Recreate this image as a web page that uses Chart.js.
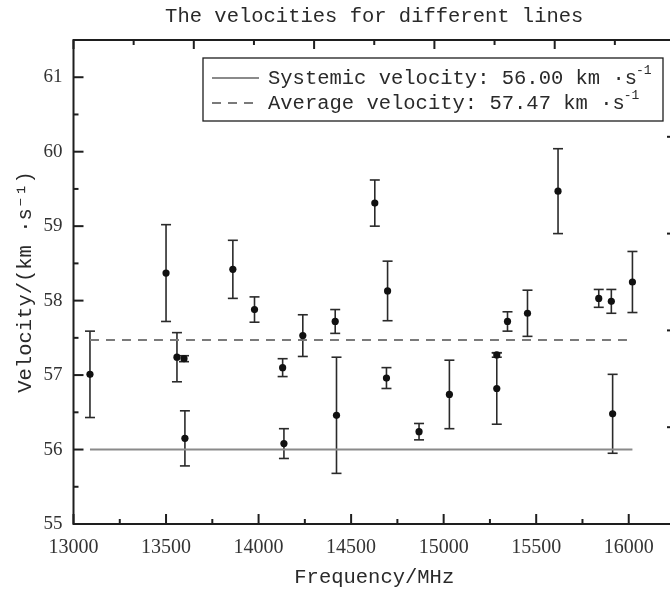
<!DOCTYPE html>
<html>
<head>
<meta charset="utf-8">
<title>The velocities for different lines</title>
<script src="https://cdn.jsdelivr.net/npm/chart.js@4.4.1/dist/chart.umd.min.js"></script>
<style>
  html, body { margin: 0; padding: 0; background: #fff; overflow: hidden; }
  canvas { display: block; }
</style>
</head>
<body>
<canvas id="velocityChart" width="690" height="594"></canvas>
<script>
'use strict';

// line frequencies (MHz) and measured velocities (km/s) with 1-sigma errors
const frequencies = [13089, 13500, 13559, 13597, 13602, 13861, 13978, 14130, 14137, 14239,
                     14414, 14421, 14628, 14697, 14691, 14867, 15031, 15287, 15287, 15345,
                     15453, 15618, 15838, 15906, 15913, 16020];
const velocities = [57.01, 58.37, 57.24, 57.22, 56.15, 58.42, 57.88, 57.10, 56.08, 57.53,
                    57.72, 56.46, 59.31, 58.13, 56.96, 56.24, 56.74, 56.82, 57.27, 57.72,
                    57.83, 59.47, 58.03, 57.99, 56.48, 58.25];
const velocityErrors = [0.58, 0.65, 0.33, 0.04, 0.37, 0.39, 0.17, 0.12, 0.20, 0.28,
                        0.16, 0.78, 0.31, 0.40, 0.14, 0.11, 0.46, 0.48, 0.03, 0.13,
                        0.31, 0.57, 0.12, 0.16, 0.53, 0.41];

const systemicVelocity = 56.00;
const averageVelocity = 57.47;

const xTickValues = [13000, 13500, 14000, 14500, 15000, 15500, 16000];
const yTickValues = [55, 56, 57, 58, 59, 60, 61];
// the frame's top/right axes carry their own (unlabelled) ticks
const topTickValues = [0, 0.5, 1, 1.5, 2, 2.5, 3, 3.5, 4, 4.5, 5];
const rightTickValues = [0, 1, 2, 3, 4, 5];

const INK = '#1e1e1e';
const LINE_GREY = '#8a8a8a';
const MONO = '"Liberation Mono", "DejaVu Sans Mono", monospace';
const SERIF = '"Liberation Serif", "DejaVu Serif", serif';

const fStart = Math.min(...frequencies);
const fEnd = Math.max(...frequencies);

function drawTick(ctx, x1, y1, x2, y2) {
    ctx.beginPath();
    ctx.moveTo(x1, y1);
    ctx.lineTo(x2, y2);
    ctx.stroke();
}

function drawSupText(ctx, text, sup, x, y) {
    ctx.font = '20.5px ' + MONO;
    ctx.textBaseline = 'middle';
    ctx.textAlign = 'left';
    ctx.fillText(text, x, y);
    const w = ctx.measureText(text).width;
    ctx.font = '13px ' + MONO;
    ctx.fillText(sup, x + w - 1, y - 8);
}

const decorPlugin = {
    id: 'decor',
    beforeDatasetsDraw(chart) {
        const {ctx, scales: {x, y}} = chart;
        ctx.save();
        ctx.strokeStyle = '#2a2a2a';
        ctx.lineWidth = 1.6;
        frequencies.forEach((f, i) => {
            const px = x.getPixelForValue(f);
            const top = y.getPixelForValue(velocities[i] + velocityErrors[i]);
            const bot = y.getPixelForValue(velocities[i] - velocityErrors[i]);
            drawTick(ctx, px, top, px, bot);
            drawTick(ctx, px - 5, top, px + 5, top);
            drawTick(ctx, px - 5, bot, px + 5, bot);
        });
        ctx.restore();
    },
    afterDraw(chart) {
        const {ctx, chartArea: a, scales: {x, y, x2, y2}} = chart;
        ctx.save();
        ctx.strokeStyle = INK;
        ctx.lineWidth = 2;
        ctx.strokeRect(a.left, a.top, a.right - a.left, a.bottom - a.top);

        // inward tick marks
        xTickValues.forEach((v, i) => {
            const px = x.getPixelForValue(v);
            drawTick(ctx, px, a.bottom, px, a.bottom - 10);
            if (i < xTickValues.length - 1) {
                const m = x.getPixelForValue((v + xTickValues[i + 1]) / 2);
                drawTick(ctx, m, a.bottom, m, a.bottom - 5);
            }
        });
        yTickValues.forEach(v => {
            const py = y.getPixelForValue(v);
            drawTick(ctx, a.left, py, a.left + 10, py);
            const m = y.getPixelForValue(v + 0.5);
            drawTick(ctx, a.left, m, a.left + 5, m);
        });
        topTickValues.forEach(v => {
            const px = x2.getPixelForValue(v);
            drawTick(ctx, px, a.top, px, a.top + (v % 1 === 0 ? 9 : 5));
        });
        rightTickValues.forEach(v => {
            const py = y2.getPixelForValue(v);
            drawTick(ctx, a.right, py, a.right - 8, py);
        });

        // title
        ctx.fillStyle = '#2a2a2a';
        ctx.font = '20.5px ' + MONO;
        ctx.textAlign = 'center';
        ctx.textBaseline = 'middle';
        ctx.fillText('The velocities for different lines', (a.left + a.right) / 2, 17);

        // legend box
        const bx = 203, by = 58, bw = 460, bh = 63;
        ctx.lineWidth = 1.3;
        ctx.strokeStyle = INK;
        ctx.strokeRect(bx, by, bw, bh);
        const entries = chart.data.datasets.filter(d => d.legendText);
        entries.forEach((d, i) => {
            const ly = by + 20 + i * 25;
            ctx.save();
            ctx.strokeStyle = d.borderColor;
            ctx.lineWidth = 2;
            ctx.setLineDash(d.borderDash || []);
            drawTick(ctx, bx + 9, ly, bx + 56, ly);
            ctx.restore();
            drawSupText(ctx, d.legendText, '-1', bx + 65, ly + 1);
        });
        ctx.restore();
    }
};

new Chart(document.getElementById('velocityChart'), {
    data: {
        datasets: [
            {
                type: 'line',
                legendText: 'Systemic velocity: ' + systemicVelocity.toFixed(2) + ' km \u00b7s',
                data: [{x: fStart, y: systemicVelocity}, {x: fEnd, y: systemicVelocity}],
                borderColor: LINE_GREY,
                borderWidth: 2,
                pointRadius: 0,
                order: 3
            },
            {
                type: 'line',
                legendText: 'Average velocity: ' + averageVelocity.toFixed(2) + ' km \u00b7s',
                data: [{x: fStart, y: averageVelocity}, {x: fEnd, y: averageVelocity}],
                borderColor: '#7a7a7a',
                borderWidth: 2,
                borderDash: [9, 7],
                pointRadius: 0,
                order: 2
            },
            {
                type: 'scatter',
                data: frequencies.map((f, i) => ({x: f, y: velocities[i]})),
                pointRadius: 3.6,
                pointBackgroundColor: '#111',
                pointBorderWidth: 0,
                order: 1
            }
        ]
    },
    options: {
        responsive: false,
        animation: false,
        devicePixelRatio: 1,
        layout: {padding: {top: 40, right: 15, left: 0, bottom: 0}},
        plugins: {legend: {display: false}, tooltip: {enabled: false}},
        scales: {
            x: {
                type: 'linear',
                position: 'bottom',
                min: 13000,
                max: 16250,
                afterFit: s => { s.height = 70; },
                afterBuildTicks: s => { s.ticks = xTickValues.map(v => ({value: v})); },
                grid: {display: false, drawTicks: false},
                border: {display: false},
                ticks: {
                    padding: 12,
                    maxRotation: 0,
                    autoSkip: false,
                    color: '#333',
                    font: {family: SERIF, size: 20},
                    callback: v => String(v)
                },
                title: {
                    display: true,
                    text: 'Frequency/MHz',
                    color: '#2a2a2a',
                    font: {family: MONO, size: 20.5},
                    padding: {top: 0, bottom: 4}
                }
            },
            y: {
                type: 'linear',
                position: 'left',
                min: 55,
                max: 61.5,
                afterFit: s => { s.width = 73.5; },
                afterBuildTicks: s => { s.ticks = yTickValues.map(v => ({value: v})); },
                grid: {display: false, drawTicks: false},
                border: {display: false},
                ticks: {
                    padding: 11,
                    color: '#333',
                    font: {family: SERIF, size: 19},
                    callback: v => String(v)
                },
                title: {
                    display: true,
                    text: 'Velocity/(km \u00b7s\u207b\u00b9)',
                    color: '#2a2a2a',
                    font: {family: MONO, size: 20.5},
                    padding: {top: 13, bottom: 0}
                }
            },
            x2: {type: 'linear', position: 'top', min: 0, max: 5, display: false},
            y2: {type: 'linear', position: 'right', min: 0, max: 5, display: false}
        }
    },
    plugins: [decorPlugin]
});
</script>
</body>
</html>
